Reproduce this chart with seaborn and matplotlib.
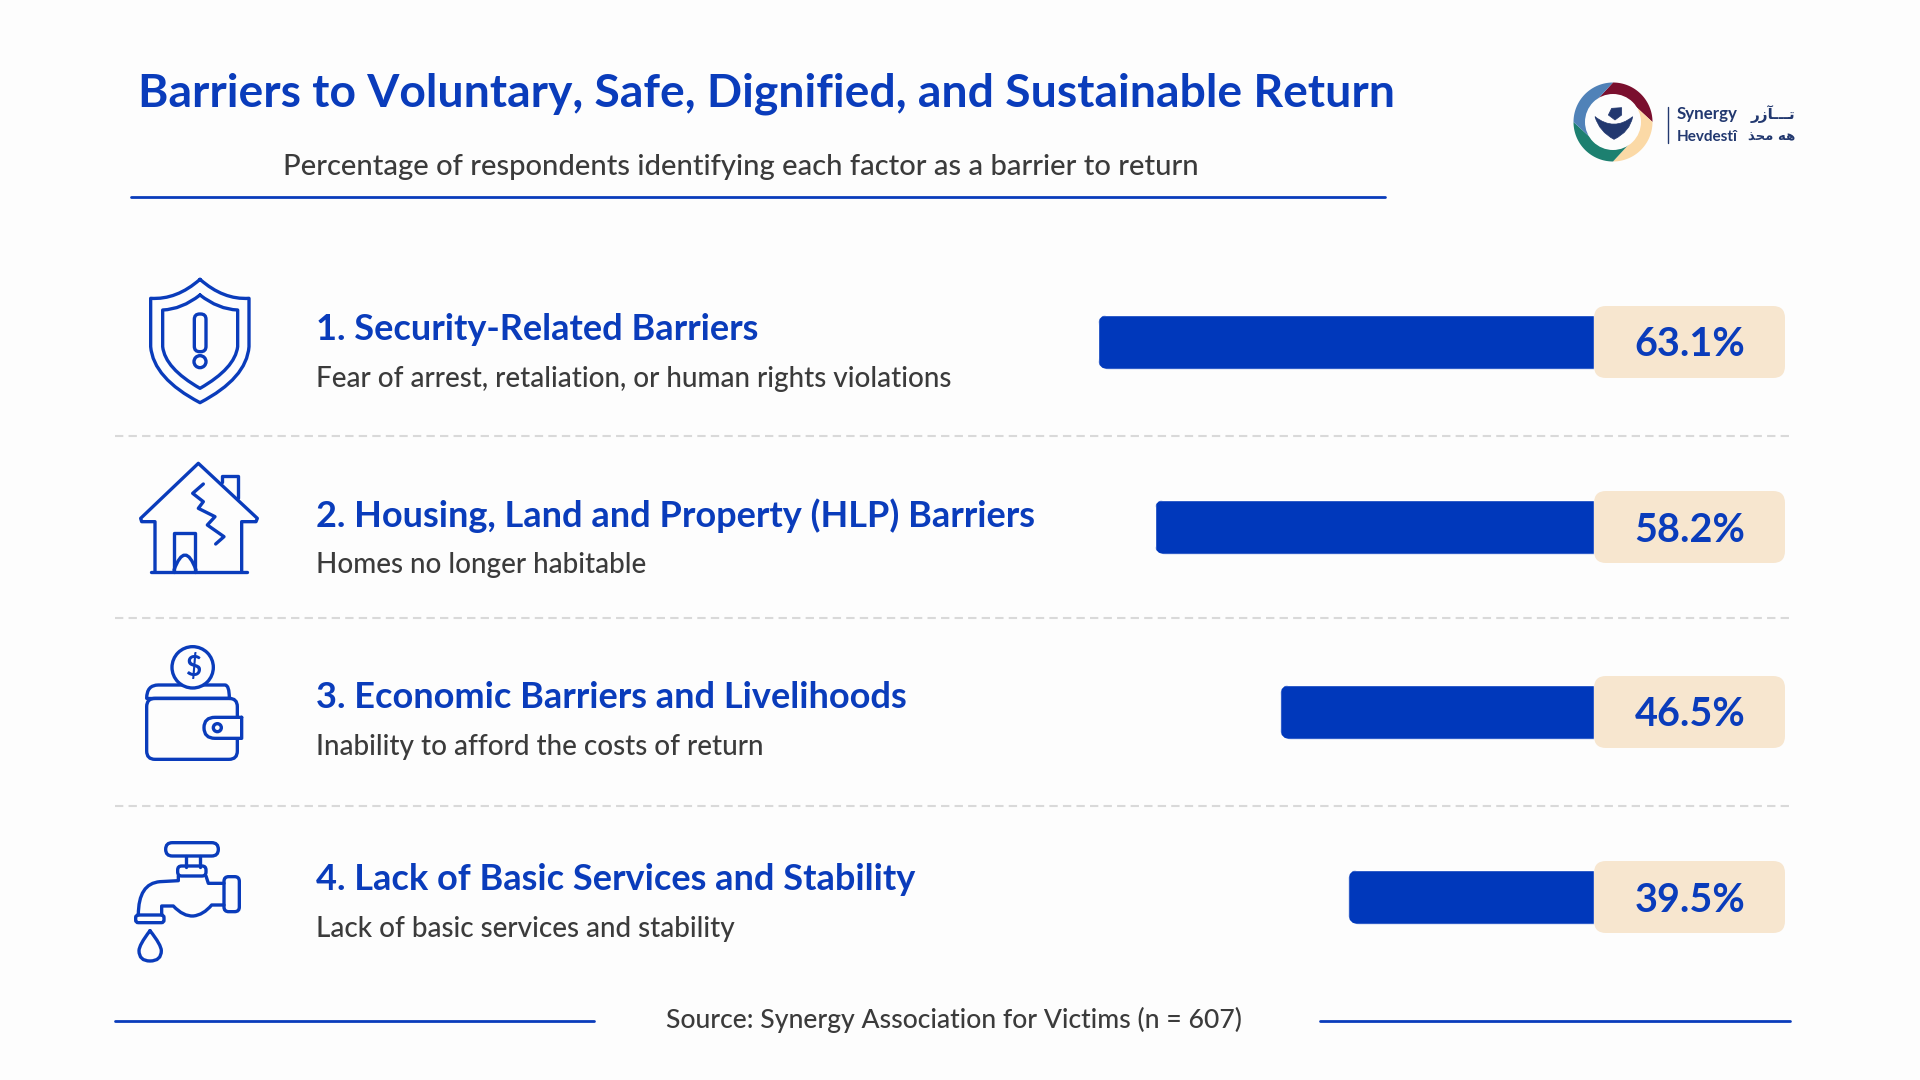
import numpy as np
import pandas as pd
import matplotlib
matplotlib.use('Agg')
import matplotlib.pyplot as plt
import seaborn as sns
from matplotlib.patches import Circle, FancyBboxPatch, PathPatch, Polygon
from matplotlib.path import Path
from matplotlib.transforms import IdentityTransform

#======================================================================================
# Data
titleText = 'Barriers to Voluntary, Safe, Dignified, and Sustainable Return'
subtitleText = 'Percentage of respondents identifying each factor as a barrier to return'
sourceText = 'Source: Synergy Association for Victims (n = 607)'

barriers = ['1. Security-Related Barriers',
            '2. Housing, Land and Property (HLP) Barriers',
            '3. Economic Barriers and Livelihoods',
            '4. Lack of Basic Services and Stability']
details = ['Fear of arrest, retaliation, or human rights violations',
           'Homes no longer habitable',
           'Inability to afford the costs of return',
           'Lack of basic services and stability']
percents = [63.1, 58.2, 46.5, 39.5]

#======================================================================================
# Style
sns.set_theme(style='white')
plt.rcParams['font.family'] = ['Lato', 'DejaVu Sans']

blue = '#0a3cbb'
barBlue = '#0038bb'
cream = '#f7e6cf'
grey = '#3b3b3b'
paper = '#fdfdfd'

fig = plt.figure(figsize=(19.2, 10.8), dpi=100, facecolor=paper)

# bars sit in their own axes, baseline on the right, against the value badges
axBar = fig.add_axes([1098 / 1920, 1 - 989.5 / 1080, 496 / 1920, 740 / 1080])
df = pd.DataFrame({'barrier': barriers, 'percent': percents})
sns.barplot(data=df, x='percent', y='barrier', color=barBlue, saturation=1,
            width=0.295, orient='h', ax=axBar)
# the original bars are not to a linear scale, this power scale follows them
axBar.set_xscale('function', functions=(lambda v: np.sign(v) * np.abs(v) ** 1.5,
                                        lambda v: np.sign(v) * np.abs(v) ** (1 / 1.5)))
axBar.set_xlim(63.1, 0)
axBar.set_ylim(3.5, -0.5)
axBar.set_axis_off()

# round the left corners of the bars
fig.canvas.draw()
for bar in axBar.patches:
    box = bar.get_window_extent()
    r = 11
    clip = FancyBboxPatch((box.x0 + r, box.y0 + r), box.width + 30, box.height - 2 * r,
                          boxstyle='round,pad=%d,rounding_size=%d' % (r, r),
                          transform=IdentityTransform())
    bar.set_clip_path(clip)

# everything else is laid out in pixels
ax = fig.add_axes([0, 0, 1, 1], facecolor='none')
ax.set_xlim(0, 1920)
ax.set_ylim(1080, 0)
ax.set_axis_off()

#======================================================================================
# Header and footer
ax.text(138, 94, titleText, color=blue, fontsize=33.3, fontweight='bold', va='center')
ax.text(283, 167, subtitleText, color=grey, fontsize=21, fontweight='medium', va='center')
ax.plot([131, 1385], [197, 197], color=blue, lw=2)

ax.plot([115, 594], [1021, 1021], color=blue, lw=2)
ax.plot([1320, 1790], [1021, 1021], color=blue, lw=2)
ax.text(954, 1020, sourceText, color=grey, fontsize=19.1, fontweight='medium', va='center', ha='center')

#======================================================================================
# Rows
headingY = [329, 516, 697, 879]
detailY = [379, 565, 747, 929]
for i in range(4):
    ax.text(316, headingY[i], barriers[i], color=blue, fontsize=26, fontweight='bold', va='center')
    ax.text(316, detailY[i], details[i], color=grey, fontsize=20.1, fontweight='medium', va='center')

for y in [436, 618, 806]:
    ax.plot([115, 1790], [y, y], color='#d9d9d9', lw=1.5, ls=(0, (4, 2.5)))

for i, v in enumerate(percents):
    yc = axBar.transData.transform((0, i))[1]
    yc = 1080 - yc
    ax.add_patch(FancyBboxPatch((1606, yc - 24), 167, 48, boxstyle='round,pad=12,rounding_size=12',
                                fc=cream, ec='none', zorder=3))
    ax.text(1690, yc + 3, '%.1f%%' % v, color=blue, fontsize=28.5, fontweight='bold',
            ha='center', va='center', zorder=4)

#======================================================================================
# Icons, sketched from 3x crops so the coordinates are crop coordinates
iconLw = 2.4

def P(ox, oy, xs):
    return [(ox + x / 3, oy + y / 3) for x, y in xs]

def stroke(ox, oy, pts, codes=None, fc='none', zorder=5):
    verts = P(ox, oy, pts)
    if codes is None:
        codes = [Path.MOVETO] + [Path.LINETO] * (len(verts) - 1)
    ax.add_patch(PathPatch(Path(verts, codes), fc=fc, ec=blue, lw=iconLw, capstyle='round',
                           joinstyle='round', zorder=zorder))

def rrect(ox, oy, x0, y0, x1, y1, r, fc='none', zorder=5):
    ax.add_patch(FancyBboxPatch((ox + (x0 + r) / 3, oy + (y0 + r) / 3), (x1 - x0 - 2 * r) / 3, (y1 - y0 - 2 * r) / 3,
                                boxstyle='round,pad=%f,rounding_size=%f' % (r / 3, r / 3),
                                fc=fc, ec=blue, lw=iconLw, zorder=zorder))

def circ(ox, oy, x, y, r, fc='none', zorder=5):
    ax.add_patch(Circle((ox + x / 3, oy + y / 3), r / 3, fc=fc, ec=blue, lw=iconLw, zorder=zorder))

M, L, C = Path.MOVETO, Path.LINETO, Path.CURVE3

# shield
stroke(100, 250, [(300, 88), (370, 150), (447, 145), (447, 290), (440, 385), (300, 458),
                  (160, 385), (152, 290), (152, 145), (230, 150), (300, 88)],
       [M, C, C, L, C, C, C, C, L, C, C])
stroke(100, 250, [(300, 135), (355, 178), (413, 180), (413, 290), (405, 355), (300, 415),
                  (195, 355), (188, 290), (188, 180), (245, 178), (300, 135)],
       [M, C, C, L, C, C, C, C, L, C, C])
rrect(100, 250, 283, 192, 318, 305, 16)
circ(100, 250, 300, 335, 18)

# house
stroke(100, 250, [(165, 965), (165, 815), (125, 815), (122, 805), (295, 640), (472, 805), (468, 815), (425, 815), (425, 965)])
stroke(100, 250, [(152, 965), (440, 965)])
stroke(100, 250, [(365, 695), (365, 678), (413, 678), (413, 745)])
stroke(100, 250, [(222, 965), (222, 850), (285, 850), (285, 965)])
stroke(100, 250, [(222, 960), (255, 870), (288, 960)], [M, C, C])
stroke(100, 250, [(310, 702), (278, 730), (310, 755), (295, 775), (345, 800), (322, 825), (372, 860), (347, 882)])

# wallet
stroke(100, 620, [(140, 235), (140, 195), (175, 195), (375, 195), (388, 195), (388, 235)], [M, C, C, L, C, C])
rrect(100, 620, 140, 235, 412, 418, 25)
stroke(100, 620, [(140, 235), (390, 235)])
circ(100, 620, 278, 142, 62, fc=paper, zorder=6)
ax.text(100 + 278 / 3, 620 + 142 / 3, '$', color=blue, fontsize=20, fontweight='bold', ha='center', va='center', zorder=7)
stroke(100, 620, [(425, 292), (345, 292), (312, 292), (312, 323), (312, 355), (345, 355), (425, 355), (425, 292)],
       [M, L, C, C, C, C, L, L], fc=paper, zorder=6)
circ(100, 620, 352, 323, 12, zorder=7)

# tap
rrect(100, 620, 197, 668, 355, 708, 20)
stroke(100, 620, [(258, 708), (258, 740)])
stroke(100, 620, [(300, 708), (300, 740)])
rrect(100, 620, 233, 738, 318, 768, 12)
stroke(100, 620, [(235, 768), (235, 782), (180, 785), (115, 790), (115, 885)], [M, L, L, C, C])
rrect(100, 620, 107, 885, 192, 908, 8)
stroke(100, 620, [(185, 885), (185, 858), (220, 858), (250, 890), (280, 888), (310, 885), (335, 855), (372, 855)],
       [M, L, L, C, C, C, C, L])
stroke(100, 620, [(318, 768), (325, 790), (372, 790)])
rrect(100, 620, 372, 770, 418, 875, 14)
stroke(100, 620, [(150, 932), (117, 975), (117, 992), (117, 1023), (150, 1023), (184, 1023), (184, 992), (184, 975), (150, 932)],
       [M, C, C, C, C, C, C, C, C])

#======================================================================================
# Logo
cx, cy = 1613, 122
segments = [(90, 0, '#7a0f2e'), (0, -90, '#fbd9a6'), (-90, -180, '#1d8070'), (-180, -270, '#5082b8')]
for a0, a1, col in segments:
    outer = np.radians(np.linspace(a0, a1, 40))
    inner = np.radians(np.linspace(a1 + 55, a0 + 55, 40))
    pts = np.r_[np.c_[cx + 39.5 * np.cos(outer), cy - 39.5 * np.sin(outer)],
                np.c_[cx + 27 * np.cos(inner), cy - 27 * np.sin(inner)]]
    ax.add_patch(Polygon(pts, fc=col, ec='none', zorder=5))
ax.add_patch(Circle((cx, cy), 28, fc=paper, ec='none', zorder=6))
navy = '#22386f'
emblem = Path(P(1540, 60, [(165, 170), (222, 215), (278, 170), (270, 215), (222, 238), (178, 215), (165, 170)]),
              [M, C, C, C, C, C, C])
ax.add_patch(PathPatch(emblem, fc=navy, ec=navy, lw=0.5, zorder=7))
ax.add_patch(Polygon(P(1540, 60, [(205, 165), (215, 145), (245, 143), (245, 165), (225, 180)]),
                     fc=navy, ec=navy, lw=0.5, zorder=7))
ax.plot([1668, 1668], [107, 143], color=navy, lw=1)
ax.text(1677, 114, 'Synergy', color=navy, fontsize=12.2, fontweight='bold', va='center')
ax.text(1677, 137, 'Hevdest\u00ee', color=navy, fontsize=11, fontweight='bold', va='center')
ax.text(1795, 114, '\ufead\ufeaf\ufe82\u0640\u0640\u0640\ufe97', color=navy, fontsize=11, fontweight='bold',
        va='center', ha='right', family='DejaVu Sans')
ax.text(1795, 137, '\ufeac\ufea4\ufee3 \ufeea\ufeeb', color=navy, fontsize=9.5, fontweight='bold',
        va='center', ha='right', family='DejaVu Sans')

fig.savefig('out.png', facecolor=paper)
